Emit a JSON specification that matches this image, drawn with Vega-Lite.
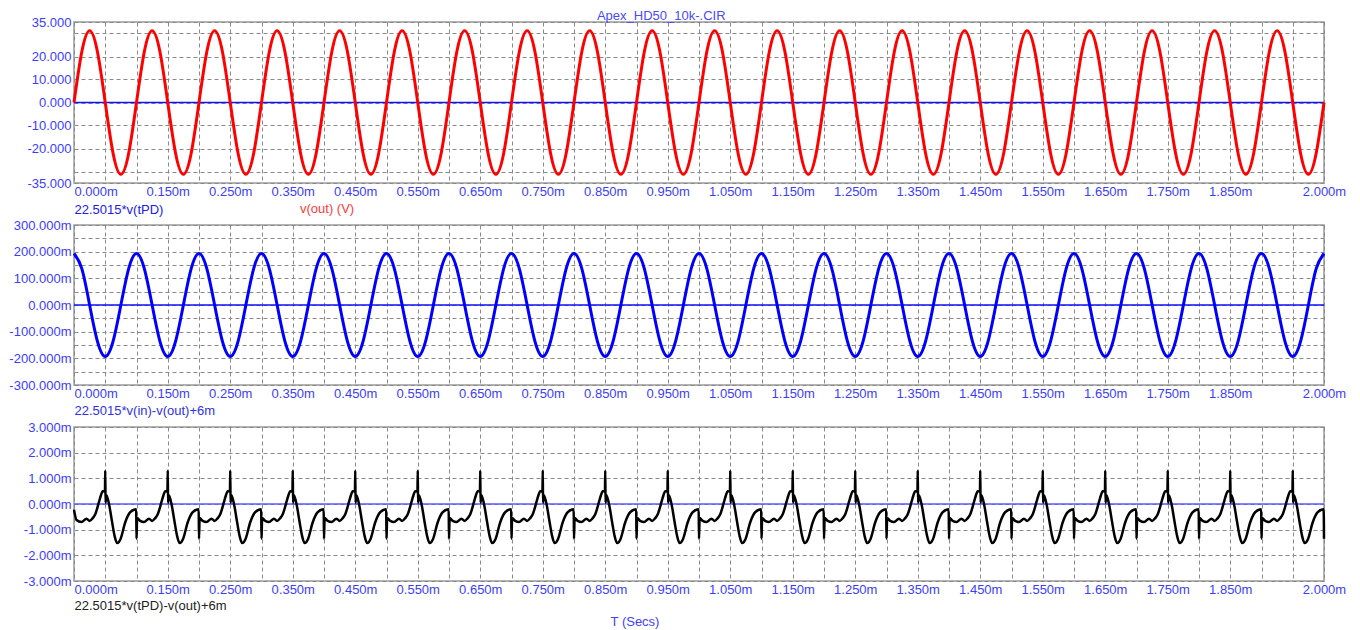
{
"$schema": "https://vega.github.io/schema/vega-lite/v6.json",
"background": "white",
"padding": {"left": 8, "top": 10, "right": 0, "bottom": 0},
"title": {"text": "Apex_HD50_10k-.CIR", "anchor": "middle", "fontSize": 13, "fontWeight": "normal", "font": "Liberation Sans", "color": "#4a4aff", "offset": -8, "dx": -16},
"config": {
  "font": "Liberation Sans",
  "view": {"stroke": "#9a9a9a", "strokeWidth": 1.5},
  "axis": {"labelFont": "Liberation Sans", "labelFontSize": 13, "labelColor": "#3c3cff", "ticks": false, "tickSize": 0, "domain": false, "grid": true, "gridColor": "#8a8a8a", "gridDash": [4, 3], "gridWidth": 1, "gridOpacity": 1, "labelPadding": 3, "labelOverlap": false, "labelFlush": false, "labelBound": false, "titleFont": "Liberation Sans", "titleFontSize": 13, "titleFontWeight": "normal"}
},
"datasets": {
"w": [
{"t":0,"a":0,"b":193},{"t":0.0125,"a":22.06,"b":136.5},{"t":0.025,"a":31.2,"b":0},{"t":0.0375,"a":22.06,"b":-136.5},{"t":0.05,"a":0,"b":-193},{"t":0.0625,"a":-22.06,"b":-136.5},{"t":0.075,"a":-31.2,"b":0},{"t":0.0875,"a":-22.06,"b":136.5},
{"t":0.1,"a":0,"b":193},{"t":0.1125,"a":22.06,"b":136.5},{"t":0.125,"a":31.2,"b":0},{"t":0.1375,"a":22.06,"b":-136.5},{"t":0.15,"a":0,"b":-193},{"t":0.1625,"a":-22.06,"b":-136.5},{"t":0.175,"a":-31.2,"b":0},{"t":0.1875,"a":-22.06,"b":136.5},
{"t":0.2,"a":0,"b":193},{"t":0.2125,"a":22.06,"b":136.5},{"t":0.225,"a":31.2,"b":0},{"t":0.2375,"a":22.06,"b":-136.5},{"t":0.25,"a":0,"b":-193},{"t":0.2625,"a":-22.06,"b":-136.5},{"t":0.275,"a":-31.2,"b":0},{"t":0.2875,"a":-22.06,"b":136.5},
{"t":0.3,"a":0,"b":193},{"t":0.3125,"a":22.06,"b":136.5},{"t":0.325,"a":31.2,"b":0},{"t":0.3375,"a":22.06,"b":-136.5},{"t":0.35,"a":0,"b":-193},{"t":0.3625,"a":-22.06,"b":-136.5},{"t":0.375,"a":-31.2,"b":0},{"t":0.3875,"a":-22.06,"b":136.5},
{"t":0.4,"a":0,"b":193},{"t":0.4125,"a":22.06,"b":136.5},{"t":0.425,"a":31.2,"b":0},{"t":0.4375,"a":22.06,"b":-136.5},{"t":0.45,"a":0,"b":-193},{"t":0.4625,"a":-22.06,"b":-136.5},{"t":0.475,"a":-31.2,"b":0},{"t":0.4875,"a":-22.06,"b":136.5},
{"t":0.5,"a":0,"b":193},{"t":0.5125,"a":22.06,"b":136.5},{"t":0.525,"a":31.2,"b":0},{"t":0.5375,"a":22.06,"b":-136.5},{"t":0.55,"a":0,"b":-193},{"t":0.5625,"a":-22.06,"b":-136.5},{"t":0.575,"a":-31.2,"b":0},{"t":0.5875,"a":-22.06,"b":136.5},
{"t":0.6,"a":0,"b":193},{"t":0.6125,"a":22.06,"b":136.5},{"t":0.625,"a":31.2,"b":0},{"t":0.6375,"a":22.06,"b":-136.5},{"t":0.65,"a":0,"b":-193},{"t":0.6625,"a":-22.06,"b":-136.5},{"t":0.675,"a":-31.2,"b":0},{"t":0.6875,"a":-22.06,"b":136.5},
{"t":0.7,"a":0,"b":193},{"t":0.7125,"a":22.06,"b":136.5},{"t":0.725,"a":31.2,"b":0},{"t":0.7375,"a":22.06,"b":-136.5},{"t":0.75,"a":0,"b":-193},{"t":0.7625,"a":-22.06,"b":-136.5},{"t":0.775,"a":-31.2,"b":0},{"t":0.7875,"a":-22.06,"b":136.5},
{"t":0.8,"a":0,"b":193},{"t":0.8125,"a":22.06,"b":136.5},{"t":0.825,"a":31.2,"b":0},{"t":0.8375,"a":22.06,"b":-136.5},{"t":0.85,"a":0,"b":-193},{"t":0.8625,"a":-22.06,"b":-136.5},{"t":0.875,"a":-31.2,"b":0},{"t":0.8875,"a":-22.06,"b":136.5},
{"t":0.9,"a":0,"b":193},{"t":0.9125,"a":22.06,"b":136.5},{"t":0.925,"a":31.2,"b":0},{"t":0.9375,"a":22.06,"b":-136.5},{"t":0.95,"a":0,"b":-193},{"t":0.9625,"a":-22.06,"b":-136.5},{"t":0.975,"a":-31.2,"b":0},{"t":0.9875,"a":-22.06,"b":136.5},
{"t":1,"a":0,"b":193},{"t":1.0125,"a":22.06,"b":136.5},{"t":1.025,"a":31.2,"b":0},{"t":1.0375,"a":22.06,"b":-136.5},{"t":1.05,"a":0,"b":-193},{"t":1.0625,"a":-22.06,"b":-136.5},{"t":1.075,"a":-31.2,"b":0},{"t":1.0875,"a":-22.06,"b":136.5},
{"t":1.1,"a":0,"b":193},{"t":1.1125,"a":22.06,"b":136.5},{"t":1.125,"a":31.2,"b":0},{"t":1.1375,"a":22.06,"b":-136.5},{"t":1.15,"a":0,"b":-193},{"t":1.1625,"a":-22.06,"b":-136.5},{"t":1.175,"a":-31.2,"b":0},{"t":1.1875,"a":-22.06,"b":136.5},
{"t":1.2,"a":0,"b":193},{"t":1.2125,"a":22.06,"b":136.5},{"t":1.225,"a":31.2,"b":0},{"t":1.2375,"a":22.06,"b":-136.5},{"t":1.25,"a":0,"b":-193},{"t":1.2625,"a":-22.06,"b":-136.5},{"t":1.275,"a":-31.2,"b":0},{"t":1.2875,"a":-22.06,"b":136.5},
{"t":1.3,"a":0,"b":193},{"t":1.3125,"a":22.06,"b":136.5},{"t":1.325,"a":31.2,"b":0},{"t":1.3375,"a":22.06,"b":-136.5},{"t":1.35,"a":0,"b":-193},{"t":1.3625,"a":-22.06,"b":-136.5},{"t":1.375,"a":-31.2,"b":0},{"t":1.3875,"a":-22.06,"b":136.5},
{"t":1.4,"a":0,"b":193},{"t":1.4125,"a":22.06,"b":136.5},{"t":1.425,"a":31.2,"b":0},{"t":1.4375,"a":22.06,"b":-136.5},{"t":1.45,"a":0,"b":-193},{"t":1.4625,"a":-22.06,"b":-136.5},{"t":1.475,"a":-31.2,"b":0},{"t":1.4875,"a":-22.06,"b":136.5},
{"t":1.5,"a":0,"b":193},{"t":1.5125,"a":22.06,"b":136.5},{"t":1.525,"a":31.2,"b":0},{"t":1.5375,"a":22.06,"b":-136.5},{"t":1.55,"a":0,"b":-193},{"t":1.5625,"a":-22.06,"b":-136.5},{"t":1.575,"a":-31.2,"b":0},{"t":1.5875,"a":-22.06,"b":136.5},
{"t":1.6,"a":0,"b":193},{"t":1.6125,"a":22.06,"b":136.5},{"t":1.625,"a":31.2,"b":0},{"t":1.6375,"a":22.06,"b":-136.5},{"t":1.65,"a":0,"b":-193},{"t":1.6625,"a":-22.06,"b":-136.5},{"t":1.675,"a":-31.2,"b":0},{"t":1.6875,"a":-22.06,"b":136.5},
{"t":1.7,"a":0,"b":193},{"t":1.7125,"a":22.06,"b":136.5},{"t":1.725,"a":31.2,"b":0},{"t":1.7375,"a":22.06,"b":-136.5},{"t":1.75,"a":0,"b":-193},{"t":1.7625,"a":-22.06,"b":-136.5},{"t":1.775,"a":-31.2,"b":0},{"t":1.7875,"a":-22.06,"b":136.5},
{"t":1.8,"a":0,"b":193},{"t":1.8125,"a":22.06,"b":136.5},{"t":1.825,"a":31.2,"b":0},{"t":1.8375,"a":22.06,"b":-136.5},{"t":1.85,"a":0,"b":-193},{"t":1.8625,"a":-22.06,"b":-136.5},{"t":1.875,"a":-31.2,"b":0},{"t":1.8875,"a":-22.06,"b":136.5},
{"t":1.9,"a":0,"b":193},{"t":1.9125,"a":22.06,"b":136.5},{"t":1.925,"a":31.2,"b":0},{"t":1.9375,"a":22.06,"b":-136.5},{"t":1.95,"a":0,"b":-193},{"t":1.9625,"a":-22.06,"b":-136.5},{"t":1.975,"a":-31.2,"b":0},{"t":1.9875,"a":-22.06,"b":136.5},
{"t":2,"a":0,"b":193}
],
"e": [
{"t":0,"c":-0.22},{"t":0.004,"c":-0.62},{"t":0.012,"c":-0.7},{"t":0.02,"c":-0.57},{"t":0.025,"c":-0.66},{"t":0.03,"c":-0.55},{"t":0.034,"c":-0.4},{"t":0.037,"c":-0.18},{"t":0.04,"c":0.08},{"t":0.043,"c":0.33},{"t":0.046,"c":0.5},{"t":0.0495,"c":0.48},{"t":0.05,"c":1.3},{"t":0.0505,"c":0.05},{"t":0.0515,"c":0.35},{"t":0.056,"c":0},{"t":0.061,"c":-0.71},{"t":0.065,"c":-1.25},{"t":0.069,"c":-1.52},{"t":0.0745,"c":-1.36},{"t":0.082,"c":-0.71},{"t":0.09,"c":-0.32},{"t":0.0995,"c":-0.2},
{"t":0.1,"c":-1.35},{"t":0.101,"c":-0.55},{"t":0.106,"c":-0.66},{"t":0.112,"c":-0.7},{"t":0.12,"c":-0.57},{"t":0.125,"c":-0.66},{"t":0.13,"c":-0.55},{"t":0.134,"c":-0.4},{"t":0.137,"c":-0.18},{"t":0.14,"c":0.08},{"t":0.143,"c":0.33},{"t":0.146,"c":0.5},{"t":0.1495,"c":0.48},{"t":0.15,"c":1.3},{"t":0.1505,"c":0.05},{"t":0.1515,"c":0.35},{"t":0.156,"c":0},{"t":0.161,"c":-0.71},{"t":0.165,"c":-1.25},{"t":0.169,"c":-1.52},{"t":0.1745,"c":-1.36},{"t":0.182,"c":-0.71},{"t":0.19,"c":-0.32},{"t":0.1995,"c":-0.2},
{"t":0.2,"c":-1.35},{"t":0.201,"c":-0.55},{"t":0.206,"c":-0.66},{"t":0.212,"c":-0.7},{"t":0.22,"c":-0.57},{"t":0.225,"c":-0.66},{"t":0.23,"c":-0.55},{"t":0.234,"c":-0.4},{"t":0.237,"c":-0.18},{"t":0.24,"c":0.08},{"t":0.243,"c":0.33},{"t":0.246,"c":0.5},{"t":0.2495,"c":0.48},{"t":0.25,"c":1.3},{"t":0.2505,"c":0.05},{"t":0.2515,"c":0.35},{"t":0.256,"c":0},{"t":0.261,"c":-0.71},{"t":0.265,"c":-1.25},{"t":0.269,"c":-1.52},{"t":0.2745,"c":-1.36},{"t":0.282,"c":-0.71},{"t":0.29,"c":-0.32},{"t":0.2995,"c":-0.2},
{"t":0.3,"c":-1.35},{"t":0.301,"c":-0.55},{"t":0.306,"c":-0.66},{"t":0.312,"c":-0.7},{"t":0.32,"c":-0.57},{"t":0.325,"c":-0.66},{"t":0.33,"c":-0.55},{"t":0.334,"c":-0.4},{"t":0.337,"c":-0.18},{"t":0.34,"c":0.08},{"t":0.343,"c":0.33},{"t":0.346,"c":0.5},{"t":0.3495,"c":0.48},{"t":0.35,"c":1.3},{"t":0.3505,"c":0.05},{"t":0.3515,"c":0.35},{"t":0.356,"c":0},{"t":0.361,"c":-0.71},{"t":0.365,"c":-1.25},{"t":0.369,"c":-1.52},{"t":0.3745,"c":-1.36},{"t":0.382,"c":-0.71},{"t":0.39,"c":-0.32},{"t":0.3995,"c":-0.2},
{"t":0.4,"c":-1.35},{"t":0.401,"c":-0.55},{"t":0.406,"c":-0.66},{"t":0.412,"c":-0.7},{"t":0.42,"c":-0.57},{"t":0.425,"c":-0.66},{"t":0.43,"c":-0.55},{"t":0.434,"c":-0.4},{"t":0.437,"c":-0.18},{"t":0.44,"c":0.08},{"t":0.443,"c":0.33},{"t":0.446,"c":0.5},{"t":0.4495,"c":0.48},{"t":0.45,"c":1.3},{"t":0.4505,"c":0.05},{"t":0.4515,"c":0.35},{"t":0.456,"c":0},{"t":0.461,"c":-0.71},{"t":0.465,"c":-1.25},{"t":0.469,"c":-1.52},{"t":0.4745,"c":-1.36},{"t":0.482,"c":-0.71},{"t":0.49,"c":-0.32},{"t":0.4995,"c":-0.2},
{"t":0.5,"c":-1.35},{"t":0.501,"c":-0.55},{"t":0.506,"c":-0.66},{"t":0.512,"c":-0.7},{"t":0.52,"c":-0.57},{"t":0.525,"c":-0.66},{"t":0.53,"c":-0.55},{"t":0.534,"c":-0.4},{"t":0.537,"c":-0.18},{"t":0.54,"c":0.08},{"t":0.543,"c":0.33},{"t":0.546,"c":0.5},{"t":0.5495,"c":0.48},{"t":0.55,"c":1.3},{"t":0.5505,"c":0.05},{"t":0.5515,"c":0.35},{"t":0.556,"c":0},{"t":0.561,"c":-0.71},{"t":0.565,"c":-1.25},{"t":0.569,"c":-1.52},{"t":0.5745,"c":-1.36},{"t":0.582,"c":-0.71},{"t":0.59,"c":-0.32},{"t":0.5995,"c":-0.2},
{"t":0.6,"c":-1.35},{"t":0.601,"c":-0.55},{"t":0.606,"c":-0.66},{"t":0.612,"c":-0.7},{"t":0.62,"c":-0.57},{"t":0.625,"c":-0.66},{"t":0.63,"c":-0.55},{"t":0.634,"c":-0.4},{"t":0.637,"c":-0.18},{"t":0.64,"c":0.08},{"t":0.643,"c":0.33},{"t":0.646,"c":0.5},{"t":0.6495,"c":0.48},{"t":0.65,"c":1.3},{"t":0.6505,"c":0.05},{"t":0.6515,"c":0.35},{"t":0.656,"c":0},{"t":0.661,"c":-0.71},{"t":0.665,"c":-1.25},{"t":0.669,"c":-1.52},{"t":0.6745,"c":-1.36},{"t":0.682,"c":-0.71},{"t":0.69,"c":-0.32},{"t":0.6995,"c":-0.2},
{"t":0.7,"c":-1.35},{"t":0.701,"c":-0.55},{"t":0.706,"c":-0.66},{"t":0.712,"c":-0.7},{"t":0.72,"c":-0.57},{"t":0.725,"c":-0.66},{"t":0.73,"c":-0.55},{"t":0.734,"c":-0.4},{"t":0.737,"c":-0.18},{"t":0.74,"c":0.08},{"t":0.743,"c":0.33},{"t":0.746,"c":0.5},{"t":0.7495,"c":0.48},{"t":0.75,"c":1.3},{"t":0.7505,"c":0.05},{"t":0.7515,"c":0.35},{"t":0.756,"c":0},{"t":0.761,"c":-0.71},{"t":0.765,"c":-1.25},{"t":0.769,"c":-1.52},{"t":0.7745,"c":-1.36},{"t":0.782,"c":-0.71},{"t":0.79,"c":-0.32},{"t":0.7995,"c":-0.2},
{"t":0.8,"c":-1.35},{"t":0.801,"c":-0.55},{"t":0.806,"c":-0.66},{"t":0.812,"c":-0.7},{"t":0.82,"c":-0.57},{"t":0.825,"c":-0.66},{"t":0.83,"c":-0.55},{"t":0.834,"c":-0.4},{"t":0.837,"c":-0.18},{"t":0.84,"c":0.08},{"t":0.843,"c":0.33},{"t":0.846,"c":0.5},{"t":0.8495,"c":0.48},{"t":0.85,"c":1.3},{"t":0.8505,"c":0.05},{"t":0.8515,"c":0.35},{"t":0.856,"c":0},{"t":0.861,"c":-0.71},{"t":0.865,"c":-1.25},{"t":0.869,"c":-1.52},{"t":0.8745,"c":-1.36},{"t":0.882,"c":-0.71},{"t":0.89,"c":-0.32},{"t":0.8995,"c":-0.2},
{"t":0.9,"c":-1.35},{"t":0.901,"c":-0.55},{"t":0.906,"c":-0.66},{"t":0.912,"c":-0.7},{"t":0.92,"c":-0.57},{"t":0.925,"c":-0.66},{"t":0.93,"c":-0.55},{"t":0.934,"c":-0.4},{"t":0.937,"c":-0.18},{"t":0.94,"c":0.08},{"t":0.943,"c":0.33},{"t":0.946,"c":0.5},{"t":0.9495,"c":0.48},{"t":0.95,"c":1.3},{"t":0.9505,"c":0.05},{"t":0.9515,"c":0.35},{"t":0.956,"c":0},{"t":0.961,"c":-0.71},{"t":0.965,"c":-1.25},{"t":0.969,"c":-1.52},{"t":0.9745,"c":-1.36},{"t":0.982,"c":-0.71},{"t":0.99,"c":-0.32},{"t":0.9995,"c":-0.2},
{"t":1,"c":-1.35},{"t":1.001,"c":-0.55},{"t":1.006,"c":-0.66},{"t":1.012,"c":-0.7},{"t":1.02,"c":-0.57},{"t":1.025,"c":-0.66},{"t":1.03,"c":-0.55},{"t":1.034,"c":-0.4},{"t":1.037,"c":-0.18},{"t":1.04,"c":0.08},{"t":1.043,"c":0.33},{"t":1.046,"c":0.5},{"t":1.0495,"c":0.48},{"t":1.05,"c":1.3},{"t":1.0505,"c":0.05},{"t":1.0515,"c":0.35},{"t":1.056,"c":0},{"t":1.061,"c":-0.71},{"t":1.065,"c":-1.25},{"t":1.069,"c":-1.52},{"t":1.0745,"c":-1.36},{"t":1.082,"c":-0.71},{"t":1.09,"c":-0.32},{"t":1.0995,"c":-0.2},
{"t":1.1,"c":-1.35},{"t":1.101,"c":-0.55},{"t":1.106,"c":-0.66},{"t":1.112,"c":-0.7},{"t":1.12,"c":-0.57},{"t":1.125,"c":-0.66},{"t":1.13,"c":-0.55},{"t":1.134,"c":-0.4},{"t":1.137,"c":-0.18},{"t":1.14,"c":0.08},{"t":1.143,"c":0.33},{"t":1.146,"c":0.5},{"t":1.1495,"c":0.48},{"t":1.15,"c":1.3},{"t":1.1505,"c":0.05},{"t":1.1515,"c":0.35},{"t":1.156,"c":0},{"t":1.161,"c":-0.71},{"t":1.165,"c":-1.25},{"t":1.169,"c":-1.52},{"t":1.1745,"c":-1.36},{"t":1.182,"c":-0.71},{"t":1.19,"c":-0.32},{"t":1.1995,"c":-0.2},
{"t":1.2,"c":-1.35},{"t":1.201,"c":-0.55},{"t":1.206,"c":-0.66},{"t":1.212,"c":-0.7},{"t":1.22,"c":-0.57},{"t":1.225,"c":-0.66},{"t":1.23,"c":-0.55},{"t":1.234,"c":-0.4},{"t":1.237,"c":-0.18},{"t":1.24,"c":0.08},{"t":1.243,"c":0.33},{"t":1.246,"c":0.5},{"t":1.2495,"c":0.48},{"t":1.25,"c":1.3},{"t":1.2505,"c":0.05},{"t":1.2515,"c":0.35},{"t":1.256,"c":0},{"t":1.261,"c":-0.71},{"t":1.265,"c":-1.25},{"t":1.269,"c":-1.52},{"t":1.2745,"c":-1.36},{"t":1.282,"c":-0.71},{"t":1.29,"c":-0.32},{"t":1.2995,"c":-0.2},
{"t":1.3,"c":-1.35},{"t":1.301,"c":-0.55},{"t":1.306,"c":-0.66},{"t":1.312,"c":-0.7},{"t":1.32,"c":-0.57},{"t":1.325,"c":-0.66},{"t":1.33,"c":-0.55},{"t":1.334,"c":-0.4},{"t":1.337,"c":-0.18},{"t":1.34,"c":0.08},{"t":1.343,"c":0.33},{"t":1.346,"c":0.5},{"t":1.3495,"c":0.48},{"t":1.35,"c":1.3},{"t":1.3505,"c":0.05},{"t":1.3515,"c":0.35},{"t":1.356,"c":0},{"t":1.361,"c":-0.71},{"t":1.365,"c":-1.25},{"t":1.369,"c":-1.52},{"t":1.3745,"c":-1.36},{"t":1.382,"c":-0.71},{"t":1.39,"c":-0.32},{"t":1.3995,"c":-0.2},
{"t":1.4,"c":-1.35},{"t":1.401,"c":-0.55},{"t":1.406,"c":-0.66},{"t":1.412,"c":-0.7},{"t":1.42,"c":-0.57},{"t":1.425,"c":-0.66},{"t":1.43,"c":-0.55},{"t":1.434,"c":-0.4},{"t":1.437,"c":-0.18},{"t":1.44,"c":0.08},{"t":1.443,"c":0.33},{"t":1.446,"c":0.5},{"t":1.4495,"c":0.48},{"t":1.45,"c":1.3},{"t":1.4505,"c":0.05},{"t":1.4515,"c":0.35},{"t":1.456,"c":0},{"t":1.461,"c":-0.71},{"t":1.465,"c":-1.25},{"t":1.469,"c":-1.52},{"t":1.4745,"c":-1.36},{"t":1.482,"c":-0.71},{"t":1.49,"c":-0.32},{"t":1.4995,"c":-0.2},
{"t":1.5,"c":-1.35},{"t":1.501,"c":-0.55},{"t":1.506,"c":-0.66},{"t":1.512,"c":-0.7},{"t":1.52,"c":-0.57},{"t":1.525,"c":-0.66},{"t":1.53,"c":-0.55},{"t":1.534,"c":-0.4},{"t":1.537,"c":-0.18},{"t":1.54,"c":0.08},{"t":1.543,"c":0.33},{"t":1.546,"c":0.5},{"t":1.5495,"c":0.48},{"t":1.55,"c":1.3},{"t":1.5505,"c":0.05},{"t":1.5515,"c":0.35},{"t":1.556,"c":0},{"t":1.561,"c":-0.71},{"t":1.565,"c":-1.25},{"t":1.569,"c":-1.52},{"t":1.5745,"c":-1.36},{"t":1.582,"c":-0.71},{"t":1.59,"c":-0.32},{"t":1.5995,"c":-0.2},
{"t":1.6,"c":-1.35},{"t":1.601,"c":-0.55},{"t":1.606,"c":-0.66},{"t":1.612,"c":-0.7},{"t":1.62,"c":-0.57},{"t":1.625,"c":-0.66},{"t":1.63,"c":-0.55},{"t":1.634,"c":-0.4},{"t":1.637,"c":-0.18},{"t":1.64,"c":0.08},{"t":1.643,"c":0.33},{"t":1.646,"c":0.5},{"t":1.6495,"c":0.48},{"t":1.65,"c":1.3},{"t":1.6505,"c":0.05},{"t":1.6515,"c":0.35},{"t":1.656,"c":0},{"t":1.661,"c":-0.71},{"t":1.665,"c":-1.25},{"t":1.669,"c":-1.52},{"t":1.6745,"c":-1.36},{"t":1.682,"c":-0.71},{"t":1.69,"c":-0.32},{"t":1.6995,"c":-0.2},
{"t":1.7,"c":-1.35},{"t":1.701,"c":-0.55},{"t":1.706,"c":-0.66},{"t":1.712,"c":-0.7},{"t":1.72,"c":-0.57},{"t":1.725,"c":-0.66},{"t":1.73,"c":-0.55},{"t":1.734,"c":-0.4},{"t":1.737,"c":-0.18},{"t":1.74,"c":0.08},{"t":1.743,"c":0.33},{"t":1.746,"c":0.5},{"t":1.7495,"c":0.48},{"t":1.75,"c":1.3},{"t":1.7505,"c":0.05},{"t":1.7515,"c":0.35},{"t":1.756,"c":0},{"t":1.761,"c":-0.71},{"t":1.765,"c":-1.25},{"t":1.769,"c":-1.52},{"t":1.7745,"c":-1.36},{"t":1.782,"c":-0.71},{"t":1.79,"c":-0.32},{"t":1.7995,"c":-0.2},
{"t":1.8,"c":-1.35},{"t":1.801,"c":-0.55},{"t":1.806,"c":-0.66},{"t":1.812,"c":-0.7},{"t":1.82,"c":-0.57},{"t":1.825,"c":-0.66},{"t":1.83,"c":-0.55},{"t":1.834,"c":-0.4},{"t":1.837,"c":-0.18},{"t":1.84,"c":0.08},{"t":1.843,"c":0.33},{"t":1.846,"c":0.5},{"t":1.8495,"c":0.48},{"t":1.85,"c":1.3},{"t":1.8505,"c":0.05},{"t":1.8515,"c":0.35},{"t":1.856,"c":0},{"t":1.861,"c":-0.71},{"t":1.865,"c":-1.25},{"t":1.869,"c":-1.52},{"t":1.8745,"c":-1.36},{"t":1.882,"c":-0.71},{"t":1.89,"c":-0.32},{"t":1.8995,"c":-0.2},
{"t":1.9,"c":-1.35},{"t":1.901,"c":-0.55},{"t":1.906,"c":-0.66},{"t":1.912,"c":-0.7},{"t":1.92,"c":-0.57},{"t":1.925,"c":-0.66},{"t":1.93,"c":-0.55},{"t":1.934,"c":-0.4},{"t":1.937,"c":-0.18},{"t":1.94,"c":0.08},{"t":1.943,"c":0.33},{"t":1.946,"c":0.5},{"t":1.9495,"c":0.48},{"t":1.95,"c":1.3},{"t":1.9505,"c":0.05},{"t":1.9515,"c":0.35},{"t":1.956,"c":0},{"t":1.961,"c":-0.71},{"t":1.965,"c":-1.25},{"t":1.969,"c":-1.52},{"t":1.9745,"c":-1.36},{"t":1.982,"c":-0.71},{"t":1.99,"c":-0.32},{"t":1.9995,"c":-0.2},
{"t":2,"c":-1.35}
]
},
"spacing": 42,
"bounds": "flush",
"vconcat": [
{
  "width": 1250, "height": 161,
  "title": {"text": "v(out) (V)", "orient": "bottom", "anchor": "start", "frame": "group", "dx": 226, "dy": -13, "offset": 0, "baseline": "top", "color": "#ff3a3a", "fontSize": 13, "fontWeight": "normal", "font": "Liberation Sans"},
  "layer": [
    {"data": {"values": [{}]}, "mark": {"type": "rule", "color": "#1010ff", "strokeWidth": 1.5},
     "encoding": {"y": {"datum": 0, "type": "quantitative", "scale": {"domain": [-35, 35], "nice": false, "zero": false},
         "axis": {"values": [-35,-30,-20,-10,0,10,20,30,35], "title": null, "labelOverlap": false,
           "labelExpr": "abs(datum.value) == 30 ? '' : (datum.value < 0 ? '-' : '') + format(abs(datum.value), '.3f')"}}}},
    {"data": {"name": "w"}, "mark": {"type": "line", "color": "#ff0000", "strokeWidth": 3, "interpolate": "natural"},
     "encoding": {
       "x": {"field": "t", "type": "quantitative", "scale": {"domain": [0, 2], "nice": false, "zero": false},
         "axis": {"values": [0,0.05,0.1,0.15,0.2,0.25,0.3,0.35,0.4,0.45,0.5,0.55,0.6,0.65,0.7,0.75,0.8,0.85,0.9,0.95,1,1.05,1.1,1.15,1.2,1.25,1.3,1.35,1.4,1.45,1.5,1.55,1.6,1.65,1.7,1.75,1.8,1.85,1.9,1.95,2],
           "labelExpr": "(datum.value == 0 || datum.value == 2 || (round(datum.value*100) % 10 == 5 && datum.value > 0.1 && datum.value < 1.9)) ? format(datum.value, '.3f') + 'm' : ''",
           "labelAlign": {"condition": {"test": "datum.value == 0", "value": "left"}, "value": "center"},
           "labelOverlap": false, "labelBaseline": "top", "labelPadding": 2,
           "title": "22.5015*v(tPD)", "titleColor": "#2020ee", "titleAlign": "left", "titleAnchor": "start", "titleX": 0, "titleY": 26, "titleBaseline": "middle"}},
       "y": {"field": "a", "type": "quantitative", "scale": {"domain": [-35, 35], "nice": false, "zero": false},
         "axis": {"values": [-35,-30,-20,-10,0,10,20,30,35], "title": null, "labelOverlap": false,
           "labelExpr": "abs(datum.value) == 30 ? '' : (datum.value < 0 ? '-' : '') + format(abs(datum.value), '.3f')"}}
     }}
  ]
},
{
  "width": 1250, "height": 160,
  "layer": [
    {"data": {"values": [{}]}, "mark": {"type": "rule", "color": "#1010ff", "strokeWidth": 1.5},
     "encoding": {"y": {"datum": 0, "type": "quantitative", "scale": {"domain": [-300, 300], "nice": false, "zero": false},
         "axis": {"values": [-300,-250,-200,-150,-100,-50,0,50,100,150,200,250,300], "title": null, "labelOverlap": false,
           "labelExpr": "datum.value % 100 != 0 ? '' : (datum.value < 0 ? '-' : '') + format(abs(datum.value), '.3f') + 'm'"}}}},
    {"data": {"name": "w"}, "mark": {"type": "line", "color": "#0000ff", "strokeWidth": 3, "interpolate": "natural"},
     "encoding": {
       "x": {"field": "t", "type": "quantitative", "scale": {"domain": [0, 2], "nice": false, "zero": false},
         "axis": {"values": [0,0.05,0.1,0.15,0.2,0.25,0.3,0.35,0.4,0.45,0.5,0.55,0.6,0.65,0.7,0.75,0.8,0.85,0.9,0.95,1,1.05,1.1,1.15,1.2,1.25,1.3,1.35,1.4,1.45,1.5,1.55,1.6,1.65,1.7,1.75,1.8,1.85,1.9,1.95,2],
           "labelExpr": "(datum.value == 0 || datum.value == 2 || (round(datum.value*100) % 10 == 5 && datum.value > 0.1 && datum.value < 1.9)) ? format(datum.value, '.3f') + 'm' : ''",
           "labelAlign": {"condition": {"test": "datum.value == 0", "value": "left"}, "value": "center"},
           "labelOverlap": false, "labelBaseline": "top", "labelPadding": 2,
           "title": "22.5015*v(in)-v(out)+6m", "titleColor": "#3030f0", "titleAlign": "left", "titleAnchor": "start", "titleX": 0, "titleY": 25, "titleBaseline": "middle"}},
       "y": {"field": "b", "type": "quantitative", "scale": {"domain": [-300, 300], "nice": false, "zero": false},
         "axis": {"values": [-300,-250,-200,-150,-100,-50,0,50,100,150,200,250,300], "title": null, "labelOverlap": false,
           "labelExpr": "datum.value % 100 != 0 ? '' : (datum.value < 0 ? '-' : '') + format(abs(datum.value), '.3f') + 'm'"}}
     }}
  ]
},
{
  "width": 1250, "height": 154,
  "title": {"text": "T (Secs)", "orient": "bottom", "anchor": "middle", "frame": "group", "dx": -64, "offset": 4, "baseline": "top", "color": "#4040ff", "fontSize": 13, "fontWeight": "normal", "font": "Liberation Sans"},
  "layer": [
    {"data": {"values": [{}]}, "mark": {"type": "rule", "color": "#5a5aff", "strokeWidth": 1.5},
     "encoding": {"y": {"datum": 0, "type": "quantitative", "scale": {"domain": [-3, 3], "nice": false, "zero": false},
         "axis": {"values": [-3,-2,-1,0,1,2,3], "title": null, "labelOverlap": false,
           "labelExpr": "(datum.value < 0 ? '-' : '') + format(abs(datum.value), '.3f') + 'm'"}}}},
    {"data": {"name": "e"}, "mark": {"type": "line", "color": "#000000", "strokeWidth": 2.5, "interpolate": "monotone"},
     "encoding": {
       "x": {"field": "t", "type": "quantitative", "scale": {"domain": [0, 2], "nice": false, "zero": false},
         "axis": {"values": [0,0.05,0.1,0.15,0.2,0.25,0.3,0.35,0.4,0.45,0.5,0.55,0.6,0.65,0.7,0.75,0.8,0.85,0.9,0.95,1,1.05,1.1,1.15,1.2,1.25,1.3,1.35,1.4,1.45,1.5,1.55,1.6,1.65,1.7,1.75,1.8,1.85,1.9,1.95,2],
           "labelExpr": "(datum.value == 0 || datum.value == 2 || (round(datum.value*100) % 10 == 5 && datum.value > 0.1 && datum.value < 1.9)) ? format(datum.value, '.3f') + 'm' : ''",
           "labelAlign": {"condition": {"test": "datum.value == 0", "value": "left"}, "value": "center"},
           "labelOverlap": false, "labelBaseline": "top", "labelPadding": 2,
           "title": "22.5015*v(tPD)-v(out)+6m", "titleColor": "#222222", "titleAlign": "left", "titleAnchor": "start", "titleX": 0, "titleY": 24, "titleBaseline": "middle"}},
       "y": {"field": "c", "type": "quantitative", "scale": {"domain": [-3, 3], "nice": false, "zero": false},
         "axis": {"values": [-3,-2,-1,0,1,2,3], "title": null, "labelOverlap": false,
           "labelExpr": "(datum.value < 0 ? '-' : '') + format(abs(datum.value), '.3f') + 'm'"}}
     }}
  ]
}
]
}
